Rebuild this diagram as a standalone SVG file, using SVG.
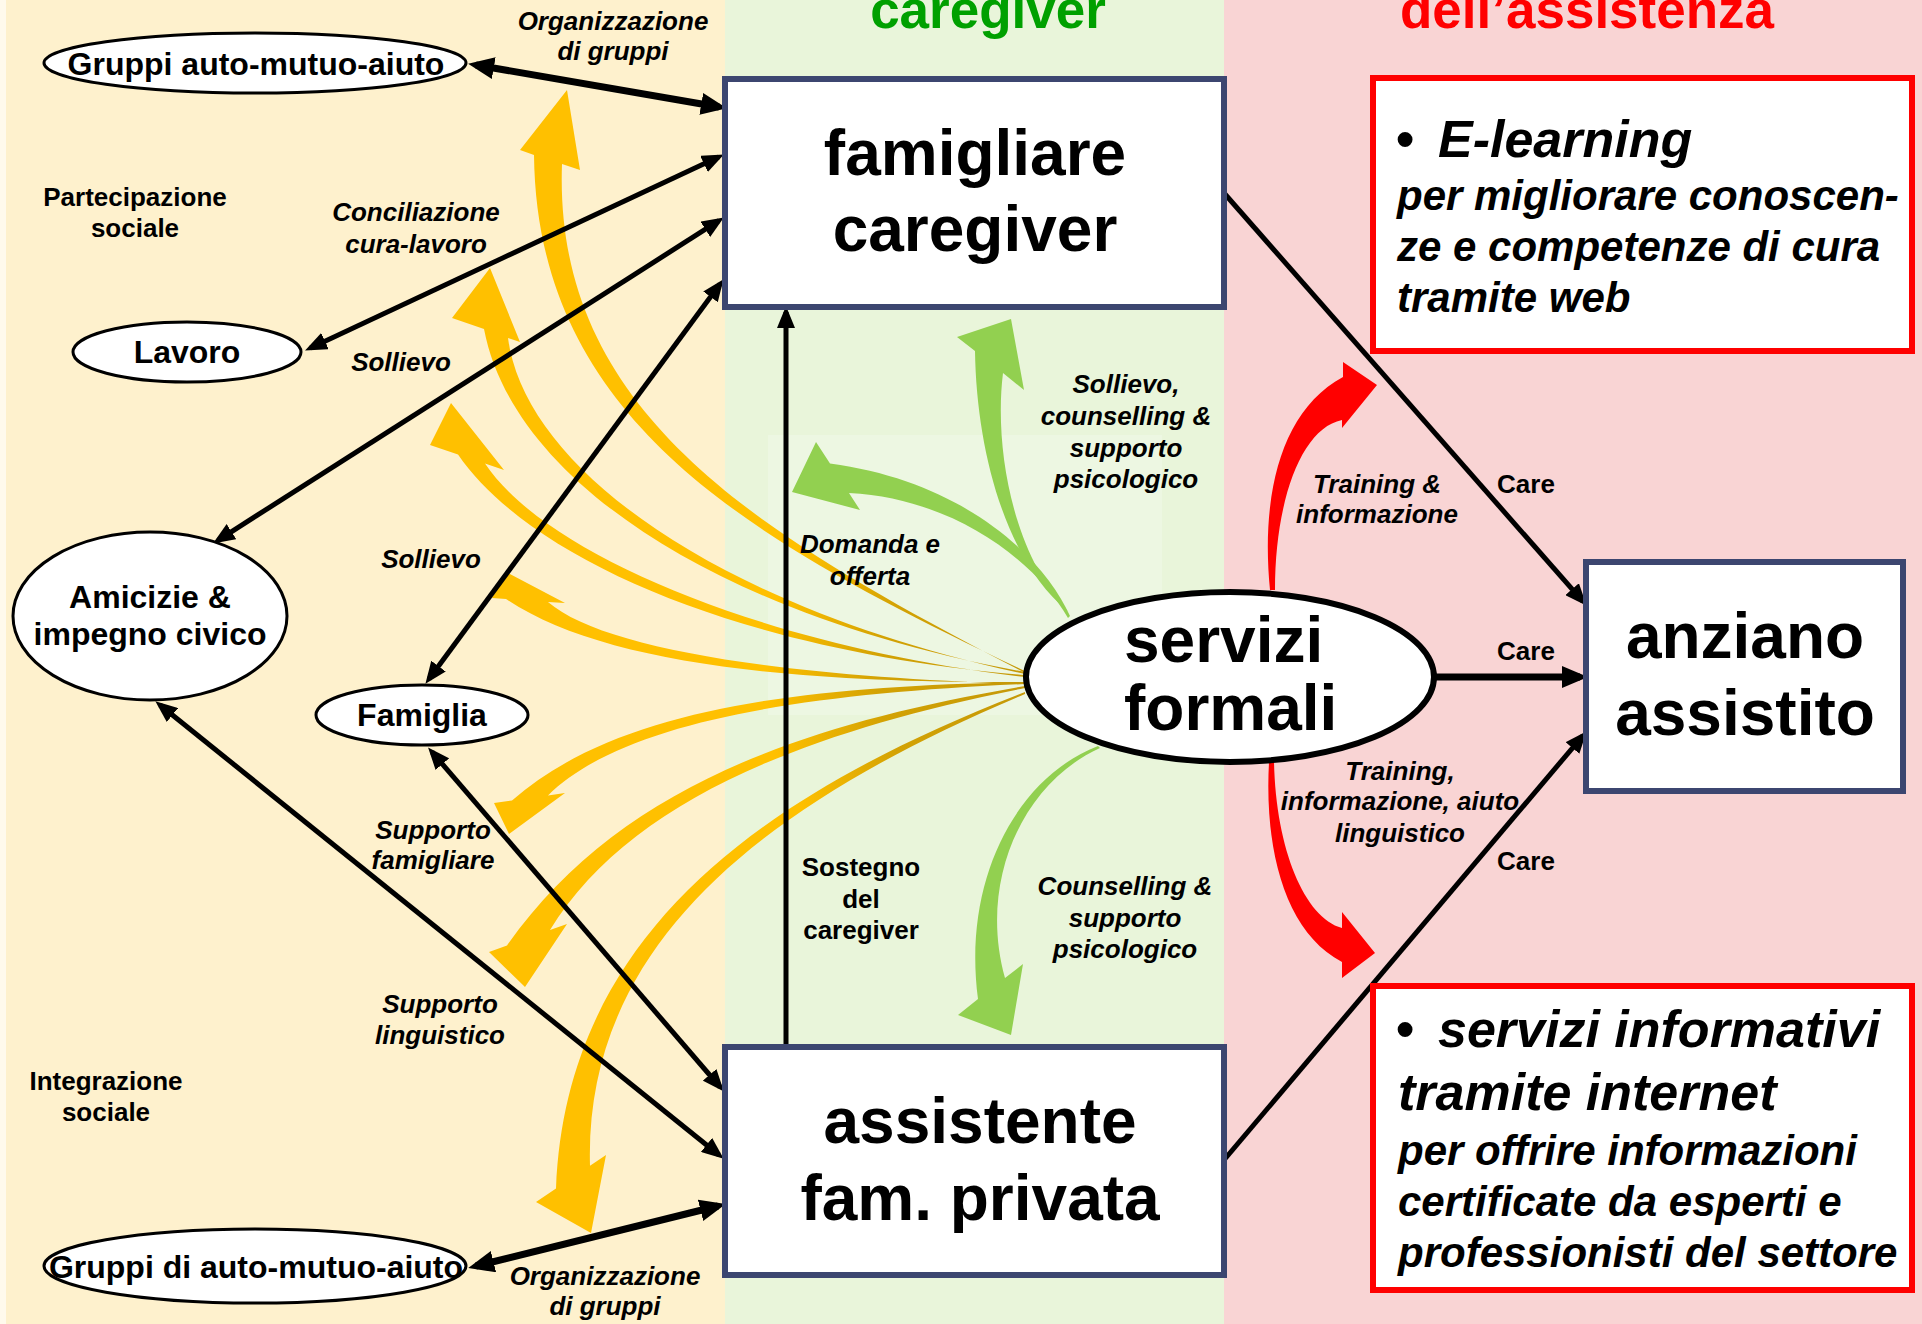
<svg xmlns="http://www.w3.org/2000/svg" width="1922" height="1324" viewBox="0 0 1922 1324">
<defs>
<style>
text{font-family:"Liberation Sans",Arial,sans-serif;font-weight:bold;fill:#000}
.lb{font-size:26px;font-style:italic;text-anchor:middle}
.lu{font-size:26px;text-anchor:middle}
.nd{font-size:32px;text-anchor:middle}
.bg{font-size:64px;text-anchor:middle}
.eb{font-size:52px;font-style:italic}
.es{font-size:42px;font-style:italic}
.ell{fill:#fff;stroke:#000;stroke-width:3}
.box{fill:#fff;stroke:#3C4670;stroke-width:6}
.rbox{fill:#fff;stroke:#FF0000;stroke-width:6}
.ln{fill:none;stroke:#000;stroke-width:5}
.lnb{fill:none;stroke:#000;stroke-width:7}
.ya{fill:url(#yg)}
.ga{fill:#92D050}
.ra{fill:#FF0000}
</style>
<radialGradient id="yg" gradientUnits="userSpaceOnUse" cx="1025" cy="678" r="420">
<stop offset="0" stop-color="#C49808"/>
<stop offset="0.35" stop-color="#D3A204"/>
<stop offset="0.62" stop-color="#FFC000"/>
<stop offset="1" stop-color="#FFC000"/>
</radialGradient>
<marker id="ah" markerUnits="userSpaceOnUse" markerWidth="22" markerHeight="18" viewBox="0 0 22 18" refX="16" refY="9" orient="auto-start-reverse"><path d="M0,0 L22,9 L0,18 Z" fill="#000"/></marker>
<marker id="ahb" markerUnits="userSpaceOnUse" markerWidth="26" markerHeight="22" viewBox="0 0 26 22" refX="18" refY="11" orient="auto-start-reverse"><path d="M0,0 L26,11 L0,22 Z" fill="#000"/></marker>
</defs>

<g id="background">
<rect x="0" y="0" width="1922" height="1324" fill="#FEF1CD"/>
<rect x="0" y="0" width="6" height="1324" fill="#FFFAEC"/>
<rect x="725" y="0" width="499" height="1324" fill="#E9F5DA"/>
<rect x="768" y="435" width="394" height="280" fill="#EDF7E2"/>
<rect x="1224" y="0" width="698" height="1324" fill="#F9D4D4"/>
<text x="988" y="28" style="font-size:53px;text-anchor:middle;fill:#00A000">caregiver</text>
<text x="1587" y="28" style="font-size:53px;text-anchor:middle;fill:#FF0000">dell’assistenza</text>
</g>

<g id="connectors">
<path class="ya" d="M1025,671 C758,544 537,425 534,155 L520,150 L567,90 L580,170 L562,164 C553,415 762,536 1025,673 Z"/>
<path class="ya" d="M1025,672 C728.6,618.7 513.8,485.1 484,329 L452,318 L490,268 L520,342 L508,338 C526.2,474.9 731.4,611.3 1025,674 Z"/>
<path class="ya" d="M1025,675 C759.1,653.9 535.6,566.7 458,454.5 L430,445 L451,403 L504,470 L485,463.6 C544.4,553.3 760.9,646.1 1025,677 Z"/>
<path class="ya" d="M1025,682 C779.8,683.3 598,661.4 506,599 L492,598 L506,572 L565,603 L548,602 C602,648.6 780.2,676.7 1025,684 Z"/>
<path class="ya" d="M1025,684 C800.3,693.7 622.7,721.8 548,795.4 L565,793 L509,834 L494,803 L512,800.5 C617.3,708.2 799.7,686.3 1025,682 Z"/>
<path class="ya" d="M1025,688 C791.2,734.2 625.4,806.8 550,930 L567,924 L525,987 L489,952 L507,945.5 C614.6,793.2 788.8,725.8 1025,686 Z"/>
<path class="ya" d="M1025,694 C762.4,804.4 583.9,944.5 590,1165.7 L606,1155 L591,1233 L536,1202 L556,1188.6 C566.1,935.5 757.6,795.6 1025,692 Z"/>

<path class="ga" d="M1068,611 C1006.2,562 976.4,450.9 975,351 L957,337 L1011,319 L1024,390 L1003,373 C993.6,449.1 1013.9,558 1070,613 Z"/>
<path class="ga" d="M1068,618 C1036.4,563 956.5,498.6 849,493 L860,510 L792,492 L816,442 L830,463.6 C963.6,481.4 1043.6,557 1070,616 Z"/>
<path class="ga" d="M1100,748 C1022.9,782.8 977.9,881.1 1005,978 L1023,964 L1011,1035 L958,1015 L978,999 C962.1,878.9 1017.2,777.2 1098,746 Z"/>

<path class="ra" d="M1270,590 C1261,499.3 1278.7,411.8 1343,377 L1343,362 L1377,385 L1342,428 L1342,420 C1301.3,428.2 1275,500.7 1275,590 Z"/>
<path class="ra" d="M1274,762 C1275.9,849.2 1304.6,917.7 1342,928 L1342,912 L1375,953 L1342,978 L1342,962 C1285.4,932.3 1264.1,850.8 1269,762 Z"/>

<line class="lnb" x1="476" y1="65" x2="719" y2="107" marker-start="url(#ahb)" marker-end="url(#ahb)"/>
<line class="ln" x1="310.5" y1="347.9" x2="718.5" y2="157.1" marker-start="url(#ah)" marker-end="url(#ah)"/>
<line class="ln" x1="218" y1="540.3" x2="718.8" y2="220.7" marker-start="url(#ah)" marker-end="url(#ah)"/>
<line class="ln" x1="429" y1="679" x2="720" y2="284" marker-start="url(#ah)" marker-end="url(#ah)"/>
<line class="ln" x1="160" y1="705" x2="719" y2="1155" marker-start="url(#ah)" marker-end="url(#ah)"/>
<line class="ln" x1="432" y1="752" x2="720" y2="1087" marker-start="url(#ah)" marker-end="url(#ah)"/>
<line class="lnb" x1="476" y1="1266" x2="718" y2="1206" marker-start="url(#ahb)" marker-end="url(#ahb)"/>
<line class="ln" x1="786" y1="1047" x2="786" y2="312" marker-end="url(#ah)"/>
<line class="ln" x1="1224" y1="193" x2="1582.7" y2="601.2" marker-end="url(#ah)"/>
<line class="lnb" x1="1434" y1="677" x2="1580" y2="677" marker-end="url(#ahb)"/>
<line class="ln" x1="1224" y1="1160" x2="1582.8" y2="735.8" marker-end="url(#ah)"/>
</g>

<g id="labels">
<text class="lb" x="613" y="30">Organizzazione</text>
<text class="lb" x="613" y="60">di gruppi</text>
<text class="lu" x="135" y="206">Partecipazione</text>
<text class="lu" x="135" y="237">sociale</text>
<text class="lb" x="416" y="221">Conciliazione</text>
<text class="lb" x="416" y="253">cura-lavoro</text>
<text class="lb" x="401" y="371">Sollievo</text>
<text class="lb" x="431" y="568">Sollievo</text>
<text class="lb" x="870" y="553">Domanda e</text>
<text class="lb" x="870" y="585">offerta</text>
<text class="lb" x="433" y="839">Supporto</text>
<text class="lb" x="433" y="869">famigliare</text>
<text class="lb" x="440" y="1013">Supporto</text>
<text class="lb" x="440" y="1044">linguistico</text>
<text class="lu" x="106" y="1090">Integrazione</text>
<text class="lu" x="106" y="1121">sociale</text>
<text class="lb" x="605" y="1285">Organizzazione</text>
<text class="lb" x="605" y="1315">di gruppi</text>
<text class="lu" x="861" y="876">Sostegno</text>
<text class="lu" x="861" y="908">del</text>
<text class="lu" x="861" y="939">caregiver</text>
<text class="lb" x="1126" y="393">Sollievo,</text>
<text class="lb" x="1126" y="425">counselling &amp;</text>
<text class="lb" x="1126" y="457">supporto</text>
<text class="lb" x="1126" y="488">psicologico</text>
<text class="lb" x="1125" y="895">Counselling &amp;</text>
<text class="lb" x="1125" y="927">supporto</text>
<text class="lb" x="1125" y="958">psicologico</text>
<text class="lb" x="1377" y="493">Training &amp;</text>
<text class="lb" x="1377" y="523">informazione</text>
<text class="lb" x="1400" y="780">Training,</text>
<text class="lb" x="1400" y="810">informazione, aiuto</text>
<text class="lb" x="1400" y="842">linguistico</text>
<text class="lu" x="1526" y="493">Care</text>
<text class="lu" x="1526" y="660">Care</text>
<text class="lu" x="1526" y="870">Care</text>
</g>

<g id="n-gruppi-top">
<ellipse class="ell" cx="255" cy="63" rx="211" ry="30"/>
<text class="nd" x="256" y="75">Gruppi auto-mutuo-aiuto</text>
</g>
<g id="n-lavoro">
<ellipse class="ell" cx="187" cy="352" rx="114" ry="30"/>
<text class="nd" x="187" y="363">Lavoro</text>
</g>
<g id="n-amicizie">
<ellipse class="ell" cx="150" cy="616" rx="137" ry="84"/>
<text class="nd" x="150" y="608">Amicizie &amp;</text>
<text class="nd" x="150" y="645">impegno civico</text>
</g>
<g id="n-famiglia">
<ellipse class="ell" cx="422" cy="715" rx="106" ry="30"/>
<text class="nd" x="422" y="726">Famiglia</text>
</g>
<g id="n-gruppi-bottom">
<ellipse class="ell" cx="255" cy="1266" rx="211" ry="37"/>
<text class="nd" x="256" y="1278">Gruppi di auto-mutuo-aiuto</text>
</g>
<g id="n-famigliare">
<rect class="box" x="725" y="79" width="499" height="228"/>
<text class="bg" x="975" y="175">famigliare</text>
<text class="bg" x="975" y="251">caregiver</text>
</g>
<g id="n-assistente">
<rect class="box" x="725" y="1047" width="499" height="228"/>
<text class="bg" x="980" y="1143">assistente</text>
<text class="bg" x="980" y="1220">fam. privata</text>
</g>
<g id="n-anziano">
<rect class="box" x="1586" y="562" width="317" height="229"/>
<text class="bg" x="1745" y="658">anziano</text>
<text class="bg" x="1745" y="735">assistito</text>
</g>
<g id="n-servizi">
<ellipse cx="1230" cy="677" rx="204" ry="85" fill="#fff" stroke="#000" stroke-width="6"/>
<text x="1124" y="662" style="font-size:64px">servizi</text>
<text x="1124" y="730" style="font-size:64px">formali</text>
</g>
<g id="n-elearning">
<rect class="rbox" x="1373" y="78" width="539" height="273"/>
<text x="1396" y="157" style="font-size:52px">•</text>
<text class="eb" x="1438" y="157">E-learning</text>
<text class="es" x="1397" y="210">per migliorare conoscen-</text>
<text class="es" x="1397" y="261">ze e competenze di cura</text>
<text class="es" x="1397" y="312">tramite web</text>
</g>
<g id="n-informativi">
<rect class="rbox" x="1373" y="986" width="539" height="304"/>
<text x="1396" y="1047" style="font-size:52px">•</text>
<text class="eb" x="1438" y="1047">servizi informativi</text>
<text class="eb" x="1398" y="1110">tramite internet</text>
<text class="es" x="1398" y="1165">per offrire informazioni</text>
<text class="es" x="1398" y="1216">certificate da esperti e</text>
<text class="es" x="1398" y="1267">professionisti del settore</text>
</g>
</svg>
